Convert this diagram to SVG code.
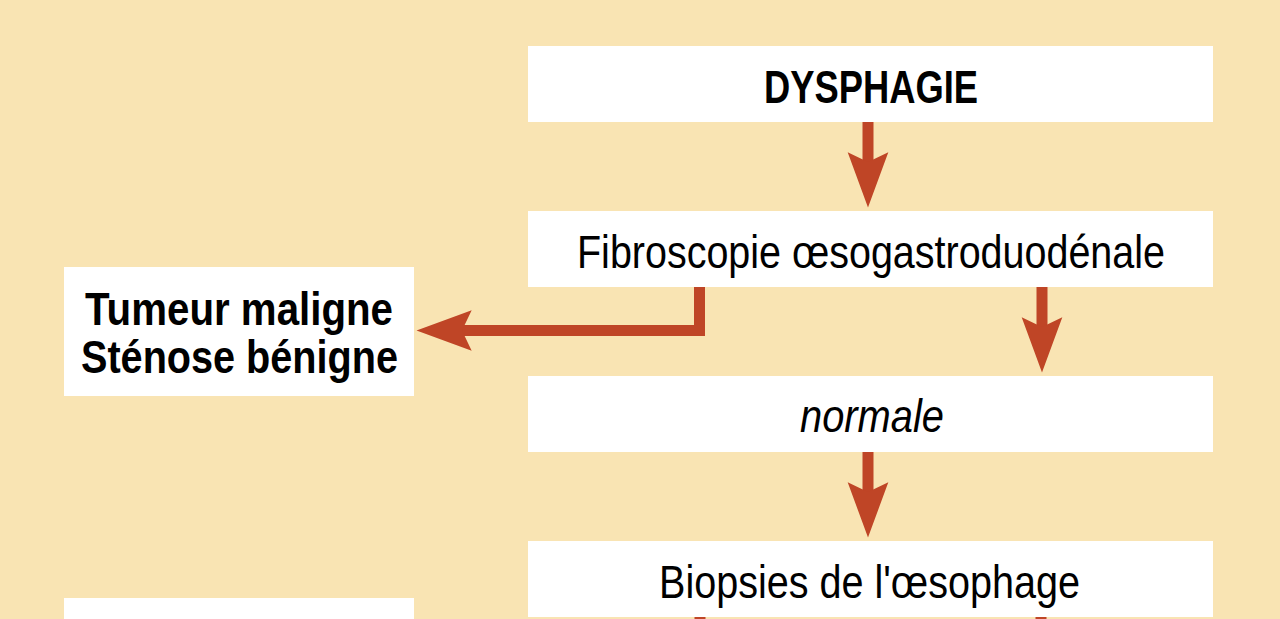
<svg xmlns="http://www.w3.org/2000/svg" width="1280" height="619" viewBox="0 0 1280 619">
  <defs>
    <style>
      .box { fill: #ffffff; }
      .t { font-family: "Liberation Sans", Arial, sans-serif; font-size: 46px; fill: #000000; }
      .b { font-weight: bold; }
      .i { font-style: italic; }
      .c { fill: none; stroke: #BF4526; stroke-width: 11; stroke-linejoin: miter; }
    </style>
    <marker id="ah" markerUnits="userSpaceOnUse" orient="auto" refX="0" refY="0" markerWidth="60" markerHeight="50" viewBox="-12 -24 62 48" overflow="visible">
      <path d="M47,0 L-10,-21 L0,0 L-10,21 Z" fill="#BF4526"/>
    </marker>
  </defs>
  <rect x="0" y="0" width="1280" height="619" fill="#F9E4B3"/>

  <g id="connectors">
    <line class="c" x1="868" y1="122" x2="868" y2="162" marker-end="url(#ah)"/>
    <line class="c" x1="1042" y1="287" x2="1042" y2="327" marker-end="url(#ah)"/>
    <line class="c" x1="868" y1="452" x2="868" y2="492" marker-end="url(#ah)"/>
    <polyline class="c" points="699.5,287 699.5,330.5 462,330.5" marker-end="url(#ah)"/>
    <line class="c" x1="700" y1="617" x2="700" y2="630"/>
    <line class="c" x1="1041" y1="617" x2="1041" y2="630"/>
  </g>

  <g id="n-dysphagie">
    <rect class="box" x="528" y="46" width="685" height="76"/>
    <text class="t b" x="764" y="103" textLength="214" lengthAdjust="spacingAndGlyphs">DYSPHAGIE</text>
  </g>

  <g id="n-fibroscopie">
    <rect class="box" x="528" y="211" width="685" height="76"/>
    <text class="t" x="577" y="268" textLength="588" lengthAdjust="spacingAndGlyphs">Fibroscopie œsogastroduodénale</text>
  </g>

  <g id="n-tumeur">
    <rect class="box" x="64" y="267" width="350" height="129"/>
    <text class="t b" x="85" y="325" textLength="308" lengthAdjust="spacingAndGlyphs">Tumeur maligne</text>
    <text class="t b" x="81" y="373" textLength="317" lengthAdjust="spacingAndGlyphs">Sténose bénigne</text>
  </g>

  <g id="n-normale">
    <rect class="box" x="528" y="376" width="685" height="76"/>
    <text class="t i" x="800" y="432" textLength="144" lengthAdjust="spacingAndGlyphs">normale</text>
  </g>

  <g id="n-biopsies">
    <rect class="box" x="528" y="541" width="685" height="76"/>
    <text class="t" x="659" y="598" textLength="421" lengthAdjust="spacingAndGlyphs">Biopsies de l'œsophage</text>
  </g>

  <g id="n-bottom-left">
    <rect class="box" x="64" y="598" width="350" height="40"/>
  </g>
</svg>
